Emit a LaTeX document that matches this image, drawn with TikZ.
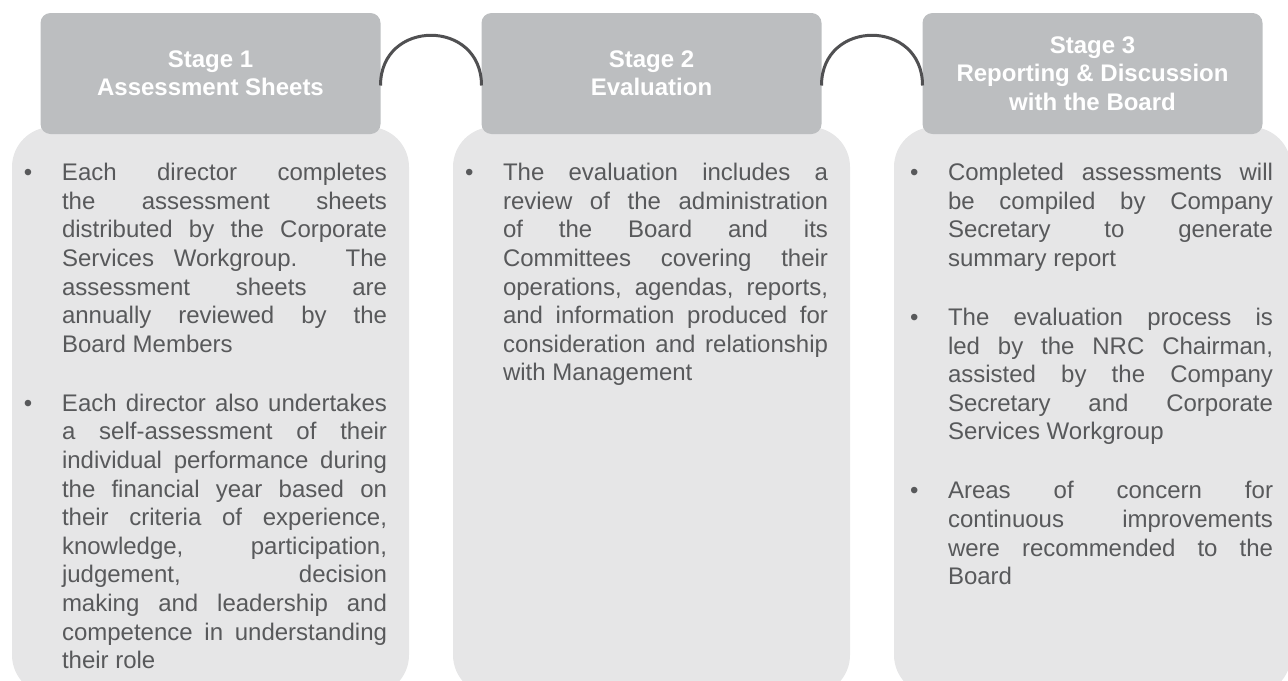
\documentclass[tikz,border=0pt]{standalone}
\usepackage{fontspec}
\setmainfont{Liberation Sans}
\usetikzlibrary{positioning}
\definecolor{hd}{HTML}{BCBEC0}
\definecolor{bg}{HTML}{E6E6E7}
\definecolor{txt}{HTML}{58595B}
\definecolor{ln}{HTML}{505052}
\hbadness=10000
\newcommand{\listsetup}{\tolerance=10000\relax\hyphenpenalty=10000\relax\exhyphenpenalty=10000\relax
  \rightskip=0pt\relax\spaceskip=0pt\relax\xspaceskip=0pt\relax\parfillskip=0pt plus 1fil\relax
  \setlength{\parskip}{15.2pt}\setlength{\parindent}{0pt}\vspace*{-\parskip}}
\newcommand{\bul}{\par\hangindent=19pt\relax\hangafter=1\relax\noindent\makebox[19pt][l]{\rule{0pt}{10pt}\textbullet}}
\tikzset{
  head/.style={fill=hd,rounded corners=5pt,minimum width=170pt,minimum height=60.5pt,inner sep=0pt,outer sep=0pt,align=center,text=white,font=\fontsize{12}{14.2}\selectfont\bfseries},
  body/.style={fill=bg,rounded corners=20pt,minimum width=198.5pt,minimum height=284pt,inner sep=0pt,outer sep=0pt,anchor=north},
  list/.style={text width=181.5pt,inner sep=0pt,outer sep=0pt,text=txt,font=\fontsize{12}{14.3}\selectfont},
  link/.style={draw=ln,line width=1.5pt},
}

\begin{document}
\begin{tikzpicture}[x=0.5pt,y=-0.5pt]
\useasboundingbox (0,0) rectangle (1288,680);
% bodies
\node[body] (body1) at (210.5,127) {};
\node[body,right=22pt of body1] (body2) {};
\node[body,right=22pt of body2] (body3) {};
% stage headers
\node[head,above=-3.5pt of body1] (head1) {Stage 1\\Assessment Sheets};
\node[head,above=-3.5pt of body2] (head2) {Stage 2\\Evaluation};
\node[head,above=-3.5pt of body3] (head3) {Stage 3\\Reporting \& Discussion\\with the Board};
\draw[link] ([yshift=-6pt]head1.east) to[out=90,in=90,looseness=1.7] ([yshift=-6pt]head2.west);
\draw[link] ([yshift=-6pt]head2.east) to[out=90,in=90,looseness=1.7] ([yshift=-6pt]head3.west);
% bullet texts
\node[list,below right=12.5pt and 6pt of body1.north west] (list1) {\listsetup
\bul Each director completes\linebreak the assessment sheets\linebreak distributed by the Corporate\linebreak Services Workgroup. The\linebreak assessment sheets are\linebreak annually reviewed by the\linebreak Board Members
\bul Each director also undertakes\linebreak a self-assessment of their\linebreak individual performance during\linebreak the financial year based on\linebreak their criteria of experience,\linebreak knowledge, participation,\linebreak judgement, decision\linebreak making and leadership and\linebreak competence in understanding\linebreak their role\par};
\node[list,below right=12.5pt and 6pt of body2.north west] (list2) {\listsetup
\bul The evaluation includes a\linebreak review of the administration\linebreak of the Board and its\linebreak Committees covering their\linebreak operations, agendas, reports,\linebreak and information produced for\linebreak consideration and relationship\linebreak with Management\par};
\node[list,below right=12.5pt and 8pt of body3.north west] (list3) {\listsetup
\bul Completed assessments will\linebreak be compiled by Company\linebreak Secretary to generate\linebreak summary report
\bul The evaluation process is\linebreak led by the NRC Chairman,\linebreak assisted by the Company\linebreak Secretary and Corporate\linebreak Services Workgroup
\bul Areas of concern for\linebreak continuous improvements\linebreak were recommended to the\linebreak Board\par};
\end{tikzpicture}
\end{document}
